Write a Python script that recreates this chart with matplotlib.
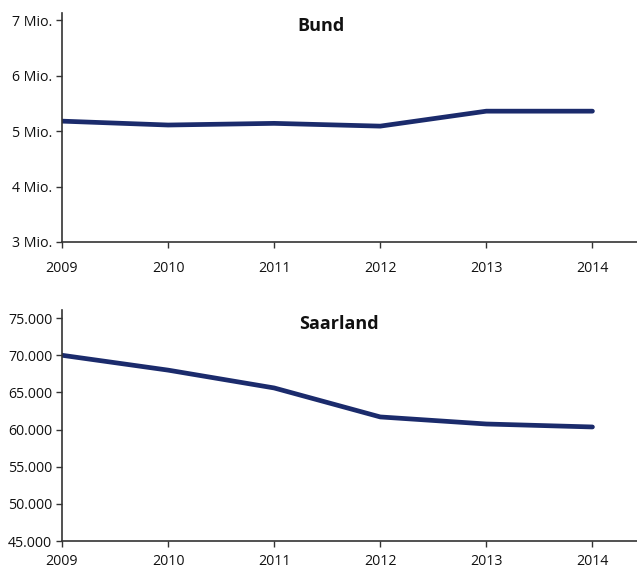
import matplotlib
matplotlib.use("Agg")
import matplotlib.pyplot as plt
from matplotlib.ticker import FuncFormatter

years = [2009, 2010, 2011, 2012, 2013, 2014]
bund = [5.18, 5.11, 5.14, 5.09, 5.36, 5.36]
saarland = [70000, 68000, 65600, 61700, 60750, 60350]
bund_ticks = [3, 4, 5, 6, 7]
saar_ticks = [45000, 50000, 55000, 60000, 65000, 70000, 75000]

plt.rcParams['font.family'] = ['Open Sans', 'DejaVu Sans']
color = '#1b2b6c'
spine_c = '#333333'

fig = plt.figure(figsize=(6.37, 5.68), dpi=100)
ax1 = fig.add_axes([0.0973, 0.574, 0.9027, 0.403])
ax2 = fig.add_axes([0.0973, 0.0475, 0.9027, 0.4065])

def style(ax, xpad):
    for s in ['top', 'right']:
        ax.spines[s].set_visible(False)
    for s in ['left', 'bottom']:
        ax.spines[s].set_color(spine_c)
        ax.spines[s].set_linewidth(1.2)
    ax.tick_params(axis='y', length=4, width=1, color=spine_c, pad=3, labelsize=10.2, labelcolor='#111111')
    ax.tick_params(axis='x', length=4, width=1, color=spine_c, pad=xpad, labelsize=10.2, labelcolor='#111111')
    ax.set_xticks(years)
    ax.set_xlim(2009, 2014.42)

ax1.plot(years, bund, color=color, lw=3.4, solid_capstyle='round', solid_joinstyle='round')
style(ax1, 10)
ax1.set_ylim(3, 7.13)
ax1.set_yticks(bund_ticks)
ax1.yaxis.set_major_formatter(FuncFormatter(lambda v, p: f"{int(v)} Mio."))
ax1.text(0.451, 0.943, 'Bund', transform=ax1.transAxes, ha='center', va='center',
         fontsize=13, fontweight='bold', color='#111111')

ax2.plot(years, saarland, color=color, lw=3.4, solid_capstyle='round', solid_joinstyle='round')
style(ax2, 5.5)
ax2.set_ylim(45000, 76075)
ax2.set_yticks(saar_ticks)
ax2.yaxis.set_major_formatter(FuncFormatter(lambda v, p: f"{int(v):,}".replace(',', '.')))
ax2.text(0.482, 0.939, 'Saarland', transform=ax2.transAxes, ha='center', va='center',
         fontsize=13, fontweight='bold', color='#111111')

fig.savefig('out.png', dpi=100)
